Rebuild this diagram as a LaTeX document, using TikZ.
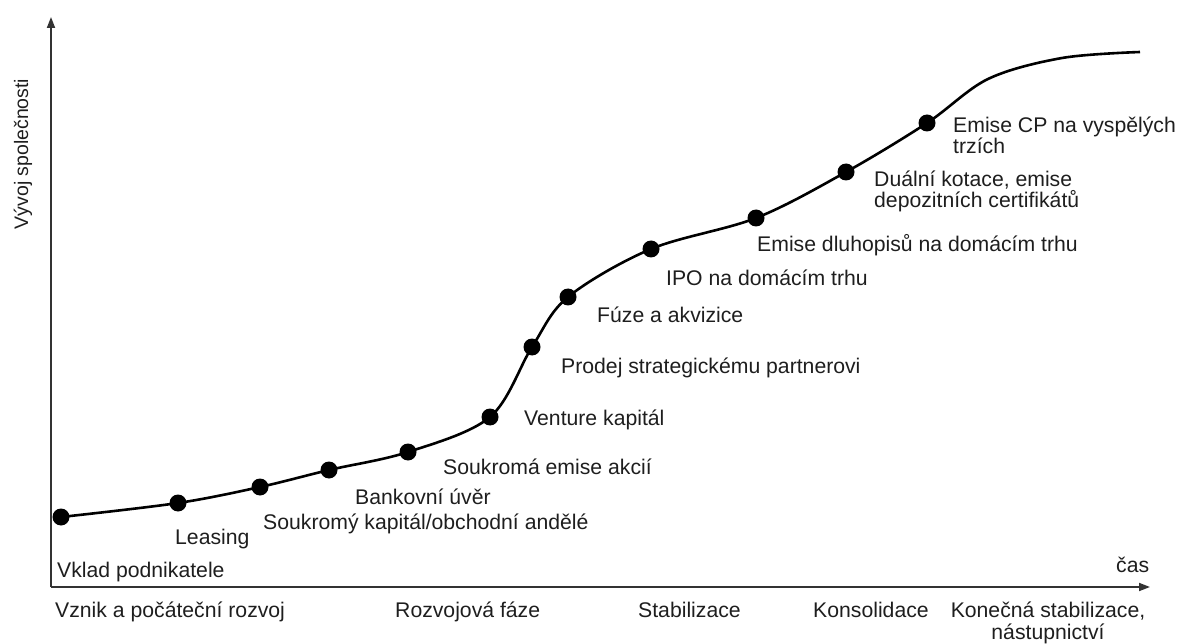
\documentclass[tikz,border=0pt]{standalone}
\usepackage{fontspec}
\setmainfont{Liberation Sans}
\usetikzlibrary{arrows.meta}
\definecolor{txt}{HTML}{1E1E1E}
\definecolor{axis}{HTML}{333333}
\begin{document}
\begin{tikzpicture}[x=1pt,y=-1pt,
  dot/.style={circle,fill=black,inner sep=0pt,minimum size=17pt},
  lbl/.style={anchor=base west,inner sep=0pt,text=txt,font=\fontsize{21.2}{21.5}\selectfont},
  axisline/.style={draw=axis,line width=1.8pt,-{Triangle[length=11pt,width=8pt]}},
  curveline/.style={draw=black,line width=2.6pt}]
\useasboundingbox (0,0) rectangle (1178,644);
% axes
\coordinate (o) at (51,587);
\coordinate (ytip) at (51,17);
\coordinate (xtip) at (1150,587);
\draw[axisline] (o) -- (ytip);
\draw[axisline] (o) -- (xtip);
\node[rotate=90,inner sep=0pt,text=txt,font=\fontsize{19.5}{22}\selectfont] (ylab) at (23,154) {Vývoj společnosti};
\node[lbl] (cas) at (1116,572) {čas};
% points
\node[dot] (p1) at (61,517) {};
\node[dot] (p2) at (178,503) {};
\node[dot] (p3) at (260,487) {};
\node[dot] (p4) at (329,470) {};
\node[dot] (p5) at (408,452) {};
\node[dot] (p6) at (490,417) {};
\node[dot] (p7) at (532,347) {};
\node[dot] (p8) at (568,297) {};
\node[dot] (p9) at (651,249) {};
\node[dot] (p10) at (756,218) {};
\node[dot] (p11) at (846,172) {};
\node[dot] (p12) at (927,123) {};
\coordinate (q1) at (988,79);
\coordinate (q2) at (1062,58);
\coordinate (pend) at (1140,52);
\draw[curveline] plot[smooth,tension=0.55] coordinates {(p1) (p2) (p3) (p4) (p5) (p6) (p7) (p8) (p9) (p10) (p11) (p12) (q1) (q2) (pend)};
% labels
\node[lbl] (l1) at (57,577) {Vklad podnikatele};
\node[lbl] (l2) at (175,544) {Leasing};
\node[lbl] (l3) at (263,529) {Soukromý kapitál/obchodní andělé};
\node[lbl] (l4) at (355,504) {Bankovní úvěr};
\node[lbl] (l5) at (443,474) {Soukromá emise akcií};
\node[lbl] (l6) at (524,425) {Venture kapitál};
\node[lbl] (l7) at (561,373) {Prodej strategickému partnerovi};
\node[lbl] (l8) at (597,323) {Fúze a akvizice};
\node[lbl] (l9) at (666,286) {IPO na domácím trhu};
\node[lbl] (l10) at (757,252) {Emise dluhopisů na domácím trhu};
\node[lbl,align=left] (l11) at (874,208) {Duální kotace, emise\\depozitních certifikátů};
\node[lbl,align=left] (l12) at (953,154) {Emise CP na vyspělých\\trzích};
% phases
\node[lbl] (f1) at (55,617) {Vznik a počáteční rozvoj};
\node[lbl] (f2) at (395,617) {Rozvojová fáze};
\node[lbl] (f3) at (638,617) {Stabilizace};
\node[lbl] (f4) at (813,617) {Konsolidace};
\node[lbl,anchor=base,align=center] (f5) at (1048,639) {Konečná stabilizace,\\nástupnictví};
\end{tikzpicture}
\end{document}
